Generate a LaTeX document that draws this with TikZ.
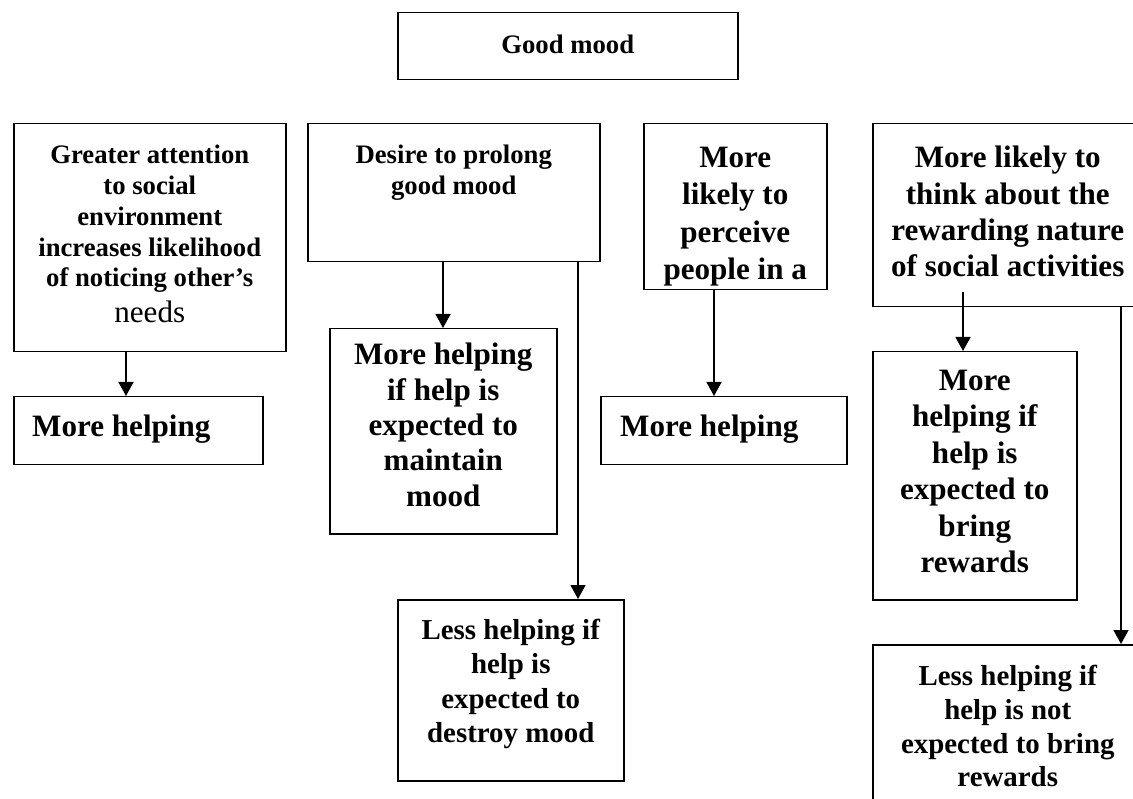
\documentclass[tikz,border=0pt]{standalone}
\usepackage{fontspec}
\setmainfont{Liberation Serif}
\usetikzlibrary{arrows.meta, positioning}
\newcommand\txtS{\fontsize{26.7pt}{30.8pt}\selectfont}
\newcommand\txtM{\fontsize{28.9pt}{33.8pt}\selectfont}
\newcommand\txtL{\fontsize{31.1pt}{36.4pt}\selectfont}

\begin{document}
\begin{tikzpicture}[x=1pt, y=-1pt,
  box/.style={
    rectangle, draw=black, line width=1.5pt,
    anchor=north west, inner sep=0pt
  },
  txt/.style={inner sep=0pt, align=center, font=\bfseries\txtL},
  arrow/.style={-{Triangle[length=14pt,width=15pt]}, line width=1.3pt}
]
\useasboundingbox (0,0) rectangle (1133,799);
\clip (0,0) rectangle (1133,799);

% boxes
\node[box, minimum width=340pt, minimum height=67pt]  (mood)         at (397,12)  {};
\node[box, minimum width=272pt, minimum height=228pt] (attention)    at (13,123)  {};
\node[box, minimum width=292pt, minimum height=138pt] (prolong)      at (307,123) {};
\node[box, minimum width=183pt, minimum height=166pt] (perceive)     at (643,123) {};
\node[box, minimum width=270pt, minimum height=183pt] (reward)       at (872,123) {};
\node[box, minimum width=249pt, minimum height=68pt]  (help1)        at (13,396)  {};
\node[box, minimum width=227pt, minimum height=205pt] (helpmaintain) at (329,328) {};
\node[box, minimum width=226pt, minimum height=181pt] (lessdestroy)  at (397,599) {};
\node[box, minimum width=246pt, minimum height=68pt]  (help2)        at (600,396) {};
\node[box, minimum width=204pt, minimum height=248pt] (helpreward)   at (872,351) {};
\node[box, minimum width=270pt, minimum height=186pt] (lessreward)   at (872,644) {};

% texts
\node[txt, font=\bfseries\txtS, below=23pt of mood.north] {Good mood};
\node[txt, font=\bfseries\txtS, below=22pt of attention.north]
  {Greater attention\\ to social\\ environment\\ increases likelihood\\
   of noticing other’s\\[5pt] {\mdseries\txtL needs}};
\node[txt, font=\bfseries\txtS, below=22pt of prolong.north]
  {Desire to prolong\\ good mood};
\node[txt, below=24pt of perceive.north]
  {More\\[1pt] likely to\\[1pt] perceive\\[1pt] people in a};
\node[txt, below=23pt of reward.north]
  {More likely to\\ think about the\\ rewarding nature\\ of social activities};
\node[txt, below right=19pt and 19pt of help1.north west] {More helping};
\node[txt, below=15pt of helpmaintain.north]
  {More helping\\[-1pt] if help is\\[-1pt] expected to\\[-1pt] maintain\\[-1pt] mood};
\node[txt, font=\bfseries\txtM, below=20pt of lessdestroy.north]
  {Less helping if\\[0.5pt] help is\\[0.5pt] expected to\\[0.5pt] destroy mood};
\node[txt, below right=19pt and 20pt of help2.north west] {More helping};
\node[txt, below=19pt of helpreward.north]
  {More\\ helping if\\ help is\\ expected to\\ bring\\ rewards};
\node[txt, font=\bfseries\txtM, below=21pt of lessreward.north]
  {Less helping if\\ help is not\\ expected to bring\\ rewards};

% arrows
\foreach \from/\to/\x in {attention/help1/126, prolong/helpmaintain/443,
    prolong/lessdestroy/578, perceive/help2/714, reward/lessreward/1121}
  \draw[arrow] (\x,0 |- \from.south) -- (\x,0 |- \to.north);

\path (963,0 |- reward.south) ++(0,-15) coordinate (tap);
\draw[arrow] (tap) -- (tap |- helpreward.north);
\end{tikzpicture}
\end{document}
